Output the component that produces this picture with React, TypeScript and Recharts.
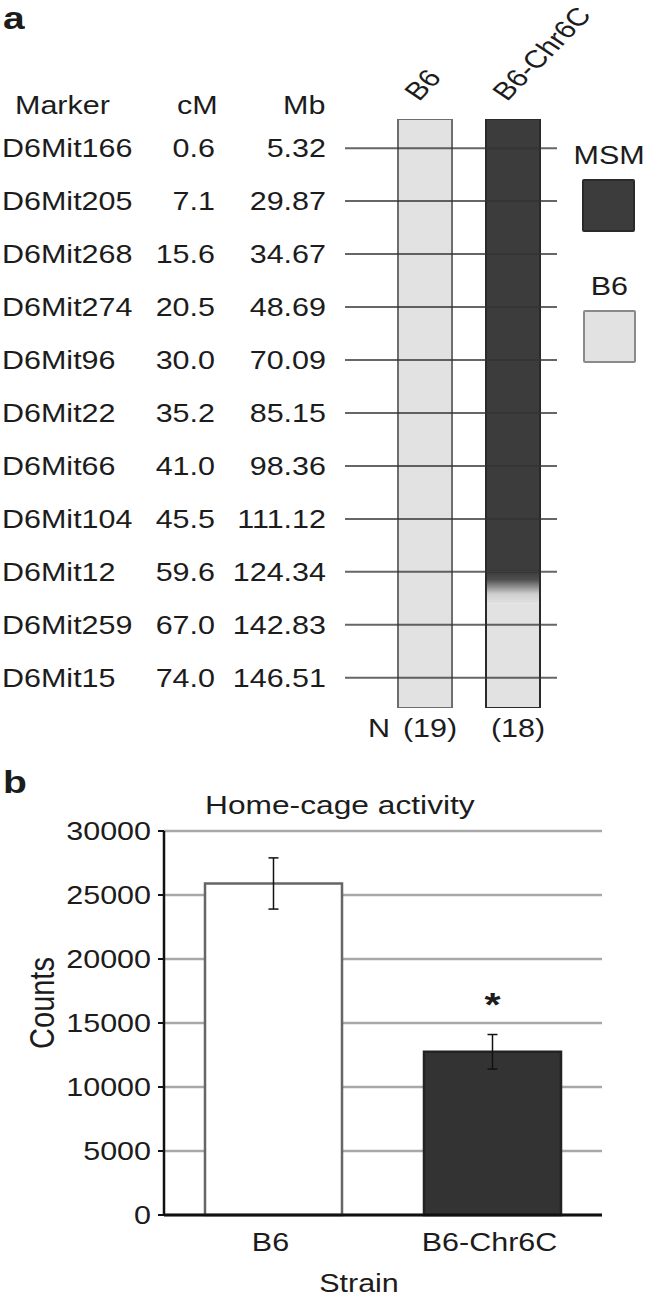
import {
  BarChart,
  Bar,
  XAxis,
  YAxis,
  CartesianGrid,
  ReferenceLine,
  Cell,
  ErrorBar,
  LabelList,
  Legend,
  Label,
} from "recharts";

// the source figure is stretched sideways, so all text gets the same squash
const SX = 1.22;
const FONT = "'Liberation Sans', Arial, Helvetica, sans-serif";
const INK = "#1c1c1c";

// panel a - marker table
const markers = [
  "D6Mit166", "D6Mit205", "D6Mit268", "D6Mit274", "D6Mit96", "D6Mit22",
  "D6Mit66", "D6Mit104", "D6Mit12", "D6Mit259", "D6Mit15",
];
const markerCM = ["0.6", "7.1", "15.6", "20.5", "30.0", "35.2", "41.0", "45.5", "59.6", "67.0", "74.0"];
const markerMb = ["5.32", "29.87", "34.67", "48.69", "70.09", "85.15", "98.36", "111.12", "124.34", "142.83", "146.51"];

const strains = ["B6", "B6-Chr6C"];
const miceN = [19, 18];

// chromosome pieces in marker-row units (row 0 = D6Mit166 ... row 10 = D6Mit15)
const chrEnds = [-0.55, 10.57];
const b6Part = [[-0.55, 10.57], [8.6, 10.57]];
const msmPart = [null, [-0.55, 8.0]];
const fadePart = [null, [8.0, 8.6]];

const legendNames = ["MSM", "B6"];
const legendFills = ["#3c3c3c", "#e2e2e2"];
const legendStrokes = ["#2a2a2a", "#8a8a8a"];

// panel b - home-cage activity
const groups = ["B6", "B6-Chr6C"];
const meanCounts = [25900, 12750];
const semCounts = [2000, 1350];
const signif = ["", "*"];
const countTicks = [0, 5000, 10000, 15000, 20000, 25000, 30000];
const barFills = ["#ffffff", "#333333"];
const barStrokes = ["#666666", "#222222"];

const chromData = strains.map((s, i) => ({
  strain: s,
  n: miceN[i],
  b6: b6Part[i],
  msm: msmPart[i],
  fade: fadePart[i],
  whole: chrEnds,
}));

const countData = groups.map((g, i) => ({
  group: g,
  mean: meanCounts[i],
  sem: semCounts[i],
  mark: signif[i],
}));

const PAD = { left: 36, right: 0 };

const SText = ({ x, y, anchor = "start", size = 25, rotate = 0, dy = "0.36em", bold = false, children }: any) => (
  <text
    transform={`translate(${x},${y}) scale(${SX},1)${rotate ? ` rotate(${rotate})` : ""}`}
    textAnchor={anchor}
    fontSize={size}
    fontFamily={FONT}
    fontWeight={bold ? 700 : 400}
    fill={INK}
    dy={dy}
  >
    {children}
  </text>
);

const HText = ({ left, top, size = 25, bold = false, children }: any) => (
  <div
    style={{
      position: "absolute",
      left,
      top,
      fontSize: size,
      lineHeight: 1,
      fontFamily: FONT,
      fontWeight: bold ? 700 : 400,
      color: INK,
      whiteSpace: "nowrap",
      transform: `scaleX(${SX})`,
      transformOrigin: "left top",
    }}
  >
    {children}
  </div>
);

const MarkerTick = ({ y, payload }: any) => {
  const i = payload.value;
  return (
    <g>
      <SText x={2} y={y} anchor="start">{markers[i]}</SText>
      <SText x={215} y={y} anchor="end">{markerCM[i]}</SText>
      <SText x={326} y={y} anchor="end">{markerMb[i]}</SText>
    </g>
  );
};

const StrainTick = ({ x, payload }: any) => (
  <SText x={x - 6} y={102} rotate={-51} dy={0}>{payload.value}</SText>
);

const NTick = ({ x, payload }: any) => {
  const i = strains.indexOf(payload.value);
  return <SText x={x + 5} y={728} anchor="middle">({miceN[i]})</SText>;
};

const LegendBox = () => (
  <div style={{ display: "flex", flexDirection: "column", alignItems: "center", fontFamily: FONT, color: INK }}>
    {legendNames.map((name, i) => (
      <div key={name} style={{ display: "flex", flexDirection: "column", alignItems: "center", marginBottom: 42 }}>
        <span style={{ fontSize: 25, lineHeight: "25px", transform: `scaleX(${SX})` }}>{name}</span>
        <div
          style={{
            width: 53,
            height: 53,
            marginTop: 11,
            background: legendFills[i],
            border: `2px solid ${legendStrokes[i]}`,
            borderRadius: 2,
            boxSizing: "border-box",
          }}
        />
      </div>
    ))}
  </div>
);

const CountTick = ({ x, y, payload }: any) => (
  <SText x={x} y={y} anchor="end">{payload.value}</SText>
);

const GroupTick = ({ x, y, payload }: any) => (
  <SText x={x - 3} y={y + 25} anchor="middle">{payload.value}</SText>
);

const CountsLabel = ({ viewBox }: any) => {
  const vb = viewBox || { x: 0, y: 71, width: 164, height: 384 };
  return (
    <SText x={vb.x + 41} y={vb.y + vb.height / 2 - 20} anchor="middle" size={29} rotate={-90}>
      Counts
    </SText>
  );
};

const StrainLabel = ({ viewBox }: any) => {
  const vb = viewBox || { x: 164, y: 455, width: 438, height: 83 };
  return (
    <SText x={vb.x + vb.width / 2 - 24} y={vb.y + 68} anchor="middle">
      Strain
    </SText>
  );
};

const StarLabel = ({ x, y, width, value }: any) =>
  value ? (
    <SText x={x + width / 2} y={y - 36} anchor="middle" size={34} bold dy={0}>
      {value}
    </SText>
  ) : null;

export default function App() {
  return (
    <div style={{ position: "absolute", left: 0, top: 0, width: 650, height: 1298, background: "#fff", overflow: "hidden" }}>
      <div style={{ position: "absolute", left: 0, top: 0 }}>
        <BarChart
          width={650}
          height={760}
          data={chromData}
          margin={{ top: 89, right: 93, bottom: 12, left: 0 }}
          barSize={54}
        >
          <defs>
            <linearGradient id="fade" x1="0" y1="0" x2="0" y2="1">
              <stop offset="0" stopColor="#3c3c3c" />
              <stop offset="0.25" stopColor="#505050" />
              <stop offset="0.7" stopColor="#cfcfcf" />
              <stop offset="1" stopColor="#e2e2e2" />
            </linearGradient>
          </defs>
          <XAxis
            xAxisId="top"
            orientation="top"
            dataKey="strain"
            padding={PAD}
            height={30}
            axisLine={false}
            tickLine={false}
            interval={0}
            tick={(p: any) => <StrainTick {...p} />}
          />
          <XAxis
            xAxisId="bottom"
            orientation="bottom"
            dataKey="strain"
            padding={PAD}
            height={40}
            axisLine={false}
            tickLine={false}
            interval={0}
            tick={(p: any) => <NTick {...p} />}
          />
          <XAxis xAxisId="fade" dataKey="strain" padding={PAD} hide />
          <XAxis xAxisId="edge" dataKey="strain" padding={PAD} hide />
          <YAxis
            type="number"
            domain={chrEnds}
            reversed
            allowDataOverflow
            ticks={markers.map((_, i) => i)}
            interval={0}
            width={345}
            axisLine={false}
            tickLine={false}
            tick={(p: any) => <MarkerTick {...p} />}
          />
          <Legend
            layout="horizontal"
            verticalAlign="middle"
            align="center"
            content={() => <LegendBox />}
            wrapperStyle={{ left: 574, top: 143, width: 70, height: 250 }}
          />
          <Bar xAxisId="top" dataKey="b6" fill="#e2e2e2" isAnimationActive={false} />
          <Bar xAxisId="bottom" dataKey="msm" fill="#3c3c3c" isAnimationActive={false} />
          <Bar xAxisId="fade" dataKey="fade" fill="url(#fade)" isAnimationActive={false} />
          <Bar xAxisId="edge" dataKey="whole" fill="none" strokeWidth={2} isAnimationActive={false}>
            {chromData.map((d, i) => (
              <Cell key={d.strain} fill="none" stroke={i === 0 ? "#6e6e6e" : "#2a2a2a"} />
            ))}
          </Bar>
          {markers.map((m, i) => (
            <ReferenceLine key={m} xAxisId="top" y={i} stroke="#333333" strokeWidth={2} strokeOpacity={0.75} />
          ))}
        </BarChart>
      </div>

      <div style={{ position: "absolute", left: 0, top: 760 }}>
        <BarChart
          width={650}
          height={538}
          data={countData}
          margin={{ top: 71, right: 48, bottom: 0, left: 0 }}
          barSize={137}
        >
          <CartesianGrid vertical={false} stroke="#a8a8a8" strokeWidth={2.5} />
          <XAxis
            dataKey="group"
            height={83}
            axisLine={{ stroke: "#111", strokeWidth: 3 }}
            tickLine={false}
            tickSize={0}
            interval={0}
            tick={(p: any) => <GroupTick {...p} />}
            label={<Label content={(p: any) => <StrainLabel {...p} />} />}
          />
          <YAxis
            domain={[0, 30000]}
            ticks={countTicks}
            interval={0}
            width={164}
            axisLine={{ stroke: "#111", strokeWidth: 2.5 }}
            tickLine={{ stroke: "#111", strokeWidth: 2 }}
            tickSize={6}
            tickMargin={7}
            tick={(p: any) => <CountTick {...p} />}
            label={<Label content={(p: any) => <CountsLabel {...p} />} />}
          />
          <Bar dataKey="mean" strokeWidth={2.5} isAnimationActive={false}>
            {countData.map((d, i) => (
              <Cell key={d.group} fill={barFills[i]} stroke={barStrokes[i]} />
            ))}
            <ErrorBar dataKey="sem" direction="y" width={5} stroke="#111" strokeWidth={1.5} />
            <LabelList dataKey="mark" content={(p: any) => <StarLabel {...p} />} />
          </Bar>
        </BarChart>
      </div>

      <HText left={3} top={2} size={32} bold>a</HText>
      <HText left={3} top={766} size={32} bold>b</HText>
      <HText left={15} top={93}>Marker</HText>
      <HText left={177} top={93}>cM</HText>
      <HText left={283} top={93}>Mb</HText>
      <HText left={368} top={716}>N</HText>
      <HText left={205} top={792} size={26}>Home-cage activity</HText>
    </div>
  );
}
